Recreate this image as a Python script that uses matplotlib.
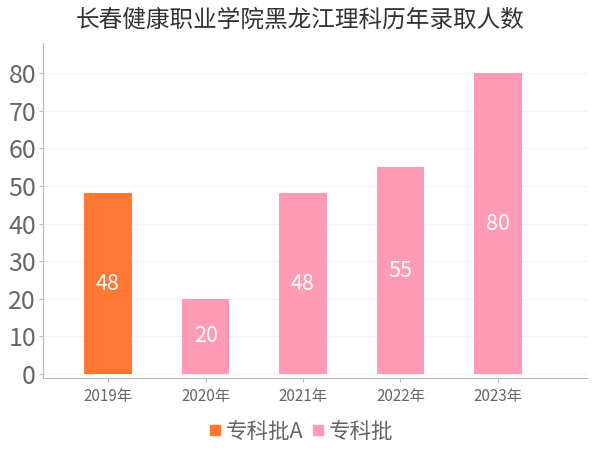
import matplotlib
matplotlib.use("Agg")
import matplotlib.pyplot as plt
from matplotlib.lines import Line2D

plt.rcParams['font.family'] = ['Noto Sans CJK SC', 'DejaVu Sans']

years = ["2019年", "2020年", "2021年", "2022年", "2023年"]
values = [48, 20, 48, 55, 80]
batches = ["专科批A", "专科批", "专科批", "专科批", "专科批"]
series_names = ["专科批A", "专科批"]
colors = {"专科批A": "#FF7733", "专科批": "#FF9BB5"}

fig = plt.figure(figsize=(6, 4.5), dpi=100)
ax = fig.add_axes([43/600, 1-378/450, (587-43)/600, (378-43)/450])

x = list(range(len(years)))
ax.bar(x, values, width=0.49, color=[colors[b] for b in batches], zorder=3)
for xi, v in zip(x, values):
    ax.text(xi, v/2, str(v), ha='center', va='center', color='white', fontsize=15.5, zorder=4)

ax.set_xlim(-0.667, 4.913)
ax.set_ylim(-1.06, 88)
ax.set_yticks(range(0, 81, 10))
ax.set_xticks(x)
ax.set_xticklabels(years)
ax.tick_params(axis='y', labelsize=18, colors='#666666', length=3, color='#bbbbbb', pad=2)
ax.tick_params(axis='x', labelsize=11, colors='#666666', length=3, color='#bbbbbb', pad=4)
ax.grid(axis='y', color='#f2f2f2', linewidth=0.8, zorder=0)
for s in ['top', 'right']:
    ax.spines[s].set_visible(False)
ax.spines['left'].set_color('#bbbbbb')
ax.spines['bottom'].set_color('#bbbbbb')

fig.text(0.5, 1-20/450, "长春健康职业学院黑龙江理科历年录取人数", ha='center', va='center',
         fontsize=17, color='#333333')

handles = [Line2D([0], [0], marker='s', linestyle='none', markersize=7,
                  markerfacecolor=colors[n], markeredgecolor=colors[n]) for n in series_names]
fig.legend(handles, series_names, loc='center', bbox_to_anchor=(0.5, 1-432/450), ncol=2,
           frameon=False, fontsize=15.5, labelcolor='#666666', handletextpad=0.1,
           columnspacing=0.3, handlelength=0.8)

fig.savefig("out.png", dpi=100)
